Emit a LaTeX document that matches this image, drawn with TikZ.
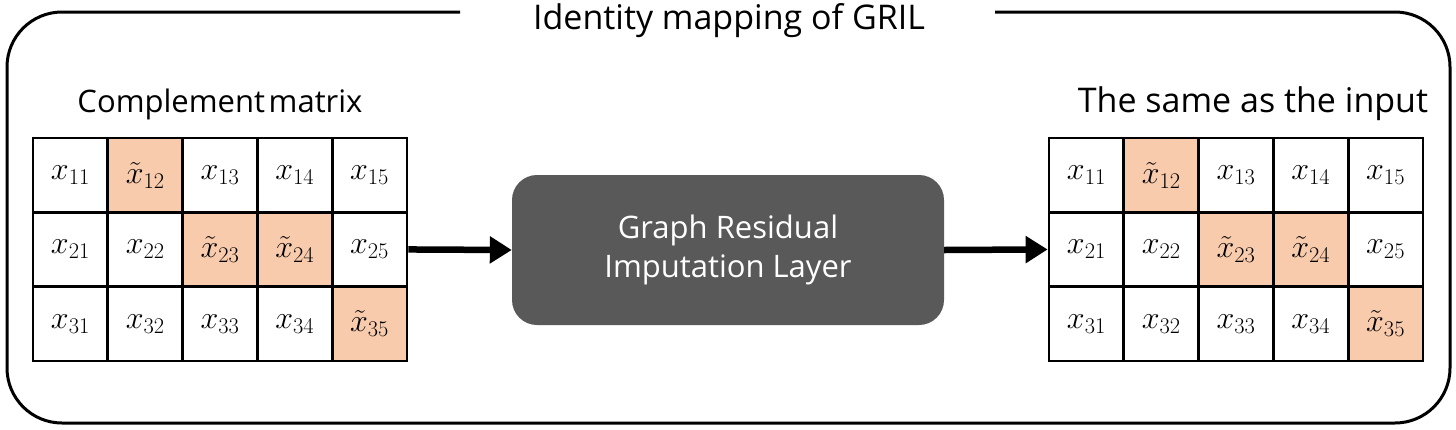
\RequirePackage{fix-cm}
\documentclass[tikz,border=0pt]{standalone}
\usepackage[no-math]{fontspec}
\setmainfont{Open Sans}
\usetikzlibrary{arrows.meta}
\definecolor{peach}{HTML}{F8CBAD}
\definecolor{boxgray}{HTML}{595959}
\tikzset{
  cell/.style={draw=black, line width=2.7pt, minimum width=74.8pt, minimum height=74.3pt, inner sep=0pt, font=\fontsize{32}{36}\selectfont},
  heading/.style={inner sep=0pt},
  bigarrow/.style={line width=6.5pt, -{Triangle[length=22pt,width=26pt]}},
}
\begin{document}
\begin{tikzpicture}[x=1pt,y=-1pt]
\useasboundingbox (0,0) rectangle (1456,429);
% outer frame
\draw[line width=3pt, rounded corners=55pt] (460,12) -- (7,12) -- (7,423) -- (1450,423) -- (1450,12) -- (995,12);
\node[font=\fontsize{34}{40}\selectfont, inner sep=0pt, anchor=base] (title) at (729,29) {Identity mapping of GRIL};
% matrices
\foreach \m/\x in {L/33, R/1049}{
  \foreach \r/\c/\f/\v in {1/1/white/x, 1/2/peach/\tilde{x}, 1/3/white/x, 1/4/white/x, 1/5/white/x,
                           2/1/white/x, 2/2/white/x, 2/3/peach/\tilde{x}, 2/4/peach/\tilde{x}, 2/5/white/x,
                           3/1/white/x, 3/2/white/x, 3/3/white/x, 3/4/white/x, 3/5/peach/\tilde{x}}{
    \node[cell, fill=\f] (\m-\r-\c) at ({\x+74.8*(\c-0.5)},{138+74.3*(\r-0.5)}) {$\v_{\r\c}$};
  }
}
\node[heading, anchor=base, font=\fontsize{31}{36}\selectfont] (lh) at (220,112) {Complement\hspace{0.12em}matrix};
\node[heading, anchor=base, font=\fontsize{34}{40}\selectfont] (rh) at (1253,112) {The same as the input};
% central block
\node[fill=boxgray, rounded corners=25pt, minimum width=432pt, minimum height=150pt, text=white, align=center, font=\fontsize{31}{39}\selectfont] (gril) at (728,250) {Graph Residual\\Imputation Layer};
\draw[bigarrow] (L-2-5.east) -- (gril.west);
\draw[bigarrow] (gril.east) -- (R-2-1.west);
\end{tikzpicture}
\end{document}
